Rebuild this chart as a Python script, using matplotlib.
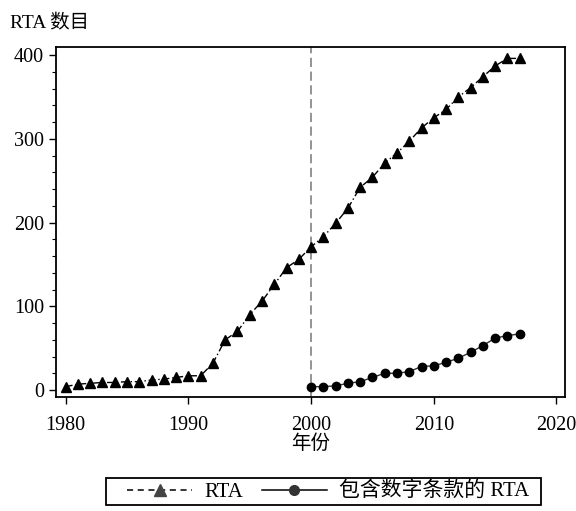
import matplotlib
matplotlib.use('Agg')
import matplotlib.pyplot as plt
from matplotlib.ticker import MultipleLocator
from matplotlib.lines import Line2D
from matplotlib.patches import Rectangle

plt.rcParams['font.family'] = ['Liberation Serif', 'Noto Sans CJK SC']

# RTA totals by year
years_rta = list(range(1980, 2018))
rta = [4, 7, 8, 9, 9, 10, 10, 12, 13, 15, 17, 17, 32, 60, 70, 90, 106, 126, 146, 156,
       171, 183, 199, 217, 242, 254, 271, 283, 297, 313, 325, 335, 350, 361, 374, 387, 396, 396]

# RTAs with digital provisions
years_dig = list(range(2000, 2018))
rta_dig = [4, 4, 5, 8, 10, 15, 20, 20, 22, 28, 29, 33, 38, 45, 53, 62, 65, 67]

fig = plt.figure(figsize=(5.76, 5.11), dpi=100)
ax = fig.add_axes([0.097, 0.223, 0.884, 0.685])

ax.axvline(2000, color='#777777', linestyle=(0, (6, 3)), linewidth=1.1, zorder=1)
ax.plot(years_rta, rta, color='black', linestyle=(0, (5, 2, 1, 2)), linewidth=1,
        marker='^', markersize=7, zorder=3)
ax.plot(years_dig, rta_dig, color='#333333', linestyle='-', linewidth=1,
        marker='o', markersize=6, markerfacecolor='black', markeredgecolor='black', zorder=3)

ax.set_xlim(1979.2, 2020.7)
ax.set_ylim(-8.4, 409.6)
ax.set_xticks([1980, 1990, 2000, 2010, 2020])
ax.yaxis.set_major_locator(MultipleLocator(100))
ax.yaxis.set_minor_locator(MultipleLocator(20))
ax.tick_params(axis='both', which='major', labelsize=14.5, length=5, width=1, direction='out')
ax.tick_params(axis='x', pad=9)
ax.tick_params(axis='y', which='minor', length=3, width=0.8)
for s in ax.spines.values():
    s.set_linewidth(1.3)

ax.set_xlabel('年份', fontsize=14, labelpad=-1)
fig.text(0.017, 0.955, 'RTA 数目', fontsize=14, ha='left', va='center')

h1 = Line2D([], [], color='black', linestyle=(0, (4, 3)), linewidth=1.1,
            marker='^', markersize=9, markerfacecolor='#444444', markeredgecolor='#444444')
h2 = Line2D([], [], color='black', linestyle='-', linewidth=1.1,
            marker='o', markersize=7, markerfacecolor='#333333', markeredgecolor='#333333')
leg = fig.legend(handles=[h1, h2], labels=['RTA', '包含数字条款的 RTA'], loc='center',
                 bbox_to_anchor=(0.570, 0.037), ncol=2, fontsize=15, frameon=False,
                 handlelength=3.1, handletextpad=0.6, columnspacing=0.9, borderpad=0.25)

# legend box, wider than the legend's own padding
fig.patches.append(Rectangle((106 / 576, 1 - 505 / 511), (541 - 106) / 576, 27 / 511,
                             transform=fig.transFigure, fill=False, edgecolor='black',
                             linewidth=1.3))

fig.savefig('out.png', dpi=100)
